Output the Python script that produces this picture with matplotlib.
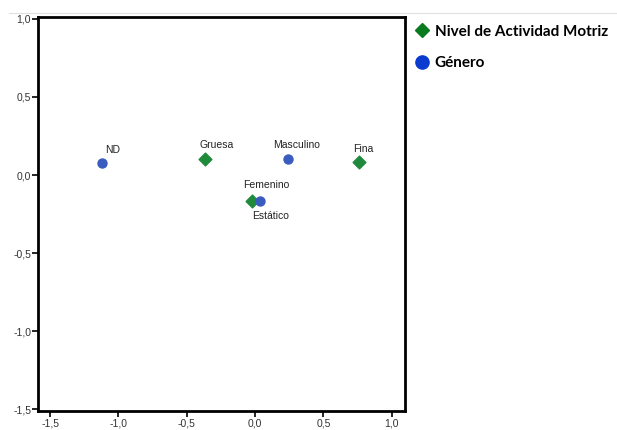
import matplotlib
matplotlib.use("Agg")
import matplotlib.pyplot as plt
from matplotlib.lines import Line2D
from matplotlib.ticker import FuncFormatter

# category points (dimension 1, dimension 2)
nivel_labels = ["Gruesa", "Fina", "Estático"]
nivel_x = [-0.366, 0.76, -0.022]
nivel_y = [0.10, 0.083, -0.165]

genero_labels = ["ND", "Masculino", "Femenino"]
genero_x = [-1.12, 0.241, 0.036]
genero_y = [0.076, 0.10, -0.165]

xticks = [-1.5, -1.0, -0.5, 0.0, 0.5, 1.0]
yticks = [-1.5, -1.0, -0.5, 0.0, 0.5, 1.0]

green = "#1f8a3c"
blue = "#3b5cbf"

fig = plt.figure(figsize=(6.17, 4.30), dpi=100)
ax = fig.add_axes([0.0616, 0.0442, 0.5944, 0.9158])

ax.scatter(nivel_x, nivel_y, marker="D", s=42, color=green, zorder=3)
ax.scatter(genero_x, genero_y, marker="o", s=42, color=blue, zorder=3)

# point labels
offsets = {
    "Gruesa": (-4, 7, "left", "bottom"),
    "Fina": (-4, 6, "left", "bottom"),
    "Estático": (0, -7, "left", "top"),
    "ND": (2, 6, "left", "bottom"),
    "Masculino": (-11, 7, "left", "bottom"),
    "Femenino": (-12, 8, "left", "bottom"),
}
for lab, x, y in zip(nivel_labels + genero_labels, nivel_x + genero_x, nivel_y + genero_y):
    dx, dy, ha, va = offsets[lab]
    ax.annotate(lab, (x, y), xytext=(dx, dy), textcoords="offset points",
                ha=ha, va=va, fontsize=7.5, family="Liberation Sans", color="#222222")

ax.set_xlim(-1.588, 1.095)
ax.set_ylim(-1.51, 1.01)
ax.set_xticks(xticks)
ax.set_yticks(yticks)
ax.xaxis.set_major_formatter(FuncFormatter(lambda v, p: f"{v:.1f}".replace(".", ",")))
ax.yaxis.set_major_formatter(FuncFormatter(lambda v, p: f"{v:.1f}".replace(".", ",")))
for lab in ax.get_xticklabels() + ax.get_yticklabels():
    lab.set_family("Liberation Sans")
    lab.set_fontsize(7.5)
    lab.set_color("#333333")
ax.tick_params(direction="out", length=4, width=1.2, pad=1)
ax.tick_params(axis="x", pad=1.5)
for sp in ax.spines.values():
    sp.set_linewidth(2)

# legend on the right side
handles = [
    Line2D([], [], marker="D", linestyle="none", color="#0a7a1e", markersize=7.5),
    Line2D([], [], marker="o", linestyle="none", color="#0a3ad0", markersize=9.5),
]
fig.legend(handles, ["Nivel de Actividad Motriz", "Género"],
           loc="upper left", bbox_to_anchor=(0.649, 0.975), frameon=False,
           handletextpad=0.35, labelspacing=1.15, handlelength=1.0,
           prop={"family": "Lato", "weight": "bold", "size": 11})

fig.add_artist(Line2D([0.015, 1.0], [0.97, 0.97], color="#e0e0e0", linewidth=0.8))

fig.savefig("out.png", dpi=100)
